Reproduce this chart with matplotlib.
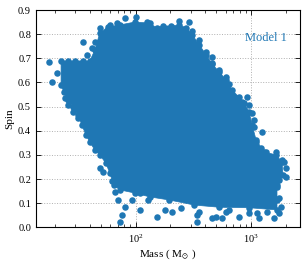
import matplotlib
matplotlib.use('Agg')
import matplotlib.pyplot as plt

plt.rcParams['font.family'] = ['Liberation Serif', 'DejaVu Serif']
plt.rcParams['mathtext.fontset'] = 'stix'

# envelope of the dense part of the cloud (mass, spin)
core_mass = [22.6, 40.1, 44.3, 48.9, 57.4, 72.8, 98.0, 132, 151.7, 171, 204, 239,
             275, 310, 356, 409, 461, 530, 609, 686, 870, 961, 1020, 1104, 1295,
             1642, 1850, 1888, 1675, 1675, 1675, 961, 530, 323, 196, 132, 98, 72.8,
             64.6, 59.7, 55.1, 48.9, 44.3, 40.1, 37.1, 34.2, 31.6, 28.6, 25.9, 23.9,
             22.6]
core_spin = [0.689, 0.689, 0.734, 0.805, 0.830, 0.838, 0.850, 0.846, 0.826, 0.834,
             0.834, 0.838, 0.826, 0.797, 0.755, 0.714, 0.676, 0.643, 0.610, 0.569,
             0.515, 0.478, 0.424, 0.362, 0.312, 0.300, 0.271, 0.217, 0.175, 0.113,
             0.072, 0.081, 0.083, 0.092, 0.113, 0.126, 0.142, 0.155, 0.175, 0.225,
             0.266, 0.300, 0.320, 0.353, 0.382, 0.424, 0.465, 0.498, 0.527, 0.560,
             0.589]

# extra points at the flat top edge
edge_mass = [25.9, 29.8, 34.9]
edge_spin = [0.689, 0.689, 0.689]

# scattered points around the cloud
out_mass = [17.8, 19.0, 20.7, 24.4, 27.9, 26.1, 28.6, 31.6,
            37.6, 41.5, 35.1, 44.3, 48.9, 59.7, 68.6, 80.4, 101.4, 124.4, 151.7,
            239, 292, 310, 275, 356, 304, 342, 409, 461, 461, 530, 609, 646,
            788, 924, 836, 961, 1020, 1061, 1061, 1244, 1104, 1220, 1347, 1642,
            1579, 1850, 1925, 2003, 2003, 1743, 1675, 1743, 1813, 1743,
            1579, 1374, 1172, 1126, 961, 788, 646, 609, 562, 499, 461, 342, 356, 342,
            304, 249, 208, 178, 152, 127, 108, 108, 92.4, 80.4, 75.7, 72.8, 70.0,
            65.9, 62.1, 51.9, 48.9]
out_spin = [0.686, 0.603, 0.638, 0.534, 0.527, 0.507, 0.478, 0.453,
            0.714, 0.741, 0.769, 0.769, 0.824, 0.838, 0.846, 0.866, 0.872, 0.850, 0.809,
            0.855, 0.852, 0.813, 0.797, 0.776, 0.755, 0.747, 0.726, 0.705, 0.681, 0.652,
            0.623, 0.594,
            0.540, 0.540, 0.519, 0.507, 0.473, 0.444, 0.415, 0.395, 0.353, 0.329, 0.312,
            0.312, 0.287, 0.279, 0.271, 0.246, 0.208, 0.196, 0.167, 0.121, 0.083, 0.060,
            0.038, 0.064, 0.038, 0.060, 0.060, 0.042, 0.072, 0.064, 0.038, 0.042, 0.038,
            0.022, 0.064, 0.051,
            0.121, 0.080, 0.064, 0.072, 0.042, 0.113, 0.072, 0.142, 0.113, 0.083, 0.051,
            0.022, 0.113, 0.146, 0.192, 0.229, 0.246]

color = '#1f77b4'

fig = plt.figure(figsize=(3.06, 2.6), dpi=100)
ax = fig.add_axes([0.1176, 0.1258, 0.8628, 0.8357])

ax.fill(core_mass, core_spin, color=color, lw=0.5, zorder=2)
ax.scatter(core_mass + edge_mass + out_mass, core_spin + edge_spin + out_spin,
           s=22, color=color, linewidths=0, zorder=3)

ax.set_xscale('log')
ax.set_xlim(13.7, 2650)
ax.set_ylim(0, 0.9)
ax.set_yticks([0.0, 0.1, 0.2, 0.3, 0.4, 0.5, 0.6, 0.7, 0.8, 0.9])

ax.grid(True, which='major', ls=':', color='#b0b0b0', lw=0.7, zorder=0)
ax.set_axisbelow(True)
ax.tick_params(which='both', direction='in', top=True, right=True, labelsize=7.5)
ax.tick_params(which='major', length=3.5, width=0.6)
ax.tick_params(which='minor', length=2, width=0.5)
for sp in ax.spines.values():
    sp.set_linewidth(0.8)

ax.set_xlabel(r'Mass ( M$_{\odot}$ )', fontsize=8, labelpad=2)
ax.set_ylabel('Spin', fontsize=8, labelpad=3)
ax.text(0.95, 0.87, 'Model 1', transform=ax.transAxes, ha='right', va='center',
        color=color, fontsize=9)

fig.savefig('out.png', dpi=100)
plt.close(fig)
